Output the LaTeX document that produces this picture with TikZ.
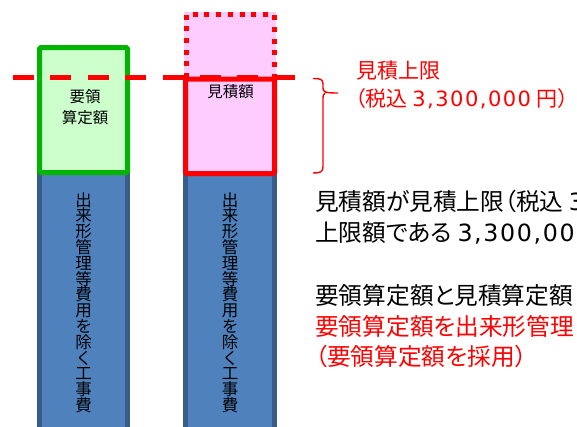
\documentclass[tikz,border=0pt]{standalone}
\usepackage{fontspec}
\setmainfont{Noto Sans CJK JP}[RawFeature=+palt]
\newfontfamily\latfont{DejaVu Sans}[LetterSpace=7]
\newcommand{\num}[1]{{\latfont #1}}
\definecolor{colblue}{HTML}{4F81BD}
\definecolor{colbluedark}{HTML}{385D8A}
\definecolor{colgreen}{HTML}{00B400}
\definecolor{colgreenfill}{HTML}{CCFFCC}
\definecolor{colred}{HTML}{FF0000}
\definecolor{colpink}{HTML}{FFCCFF}
\begin{document}
\begin{tikzpicture}[x=1pt,y=-1pt,
  column/.style={fill=colblue,draw=colbluedark,line width=5pt},
  vtext/.style={align=center,font=\fontsize{16.5}{15.8}\selectfont,inner sep=0pt},
  boxtext/.style={align=center,font=\fontsize{15.5}{21}\selectfont,inner sep=0pt},
  bodytext/.style={anchor=west,font=\fontsize{23.7}{26}\selectfont,inner sep=0pt},
  labeltext/.style={anchor=west,font=\fontsize{21}{24}\selectfont,inner sep=0pt,text=colred},
  redtext/.style={bodytext,text=colred}]
\useasboundingbox (0,0) rectangle (577,426);
\clip (0,0) rectangle (577,426);
% blue columns
\draw[column] (39.5,172) rectangle (127.5,440);
\draw[column] (185.5,172) rectangle (274.5,440);
\node[vtext] (v1) at (83.5,302.5) {出\\来\\形\\管\\理\\等\\費\\用\\を\\除\\く\\工\\事\\費};
\node[vtext] (v2) at (230,302.5) {出\\来\\形\\管\\理\\等\\費\\用\\を\\除\\く\\工\\事\\費};
% green box
\draw[fill=colgreenfill,draw=colgreen,line width=5pt,rounded corners=1.5pt] (39.5,47.5) rectangle (127.5,172.5);
\node[boxtext] (g) at (85,107) {要領\\算定額};
% pink dotted box
\fill[colpink] (184,12) rectangle (276,80);
\draw[colred,line width=5pt,dash pattern=on 5pt off 6.7pt] (186,78) -- (186,14.5) -- (274,14.5) -- (274,78);
% red box
\draw[fill=colpink,draw=colred,line width=5pt,rounded corners=1.5pt] (185.5,79) rectangle (274.5,173.5);
\node[boxtext] (r) at (230.5,92) {見積額};
% dashed line
\coordinate (dl) at (13,77.5);
\coordinate (dr) at (295,77.5);
\draw[colred,line width=5pt,dash pattern=on 21pt off 16.4pt] (dl) -- (dr);
% brace
\draw[colred,line width=1.4pt,line join=round]
  (313,78.5) .. controls (320,78.5) and (323,79) .. (323,84)
  -- (323,88) .. controls (323,92) and (325,93) .. (338,93)
  (325,93) .. controls (323,94) and (323,96) .. (323,100)
  -- (323,167) .. controls (323,172) and (320,173) .. (313,173);
\node[labeltext] (lim1) at (356,71) {見積上限};
\node[labeltext] (lim2) at (355,99) {（税込 \num{3,300,000}\hspace{0.28em}円）};
% body text
\node[bodytext] (t1) at (315,202) {見積額が見積上限（税込 \num{3,300,000}\hspace{0.35em}円）};
\node[bodytext] (t2) at (315,233) {上限額である \num{3,300,000}\hspace{0.35em}円};
\node[bodytext] (t3) at (315,295) {要領算定額と見積算定額};
\node[redtext] (t4) at (315,326) {要領算定額を出来形管理};
\node[redtext] (t5) at (315,356) {（要領算定額を採用）};
\end{tikzpicture}
\end{document}
